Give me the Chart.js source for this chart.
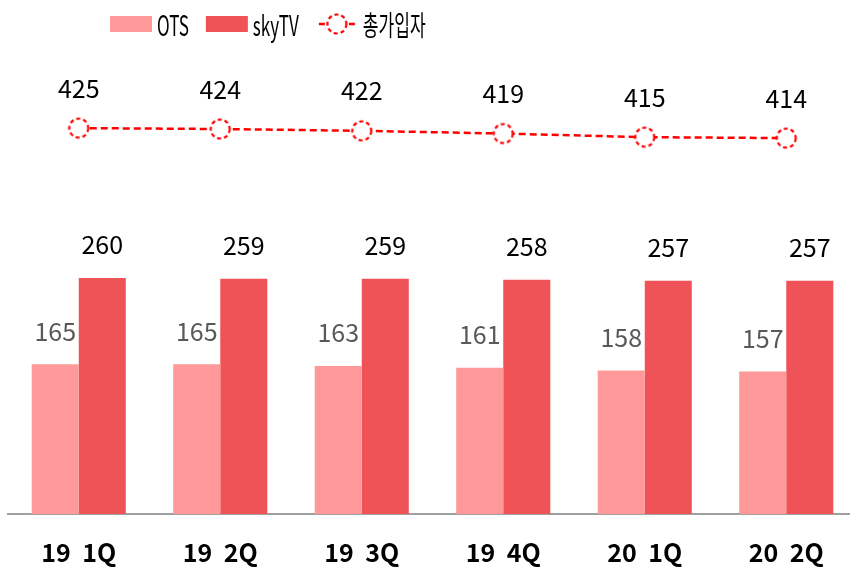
<!DOCTYPE html>
<html><head><meta charset="utf-8">
<script src="https://cdn.jsdelivr.net/npm/chart.js@4.4.1/dist/chart.umd.min.js"></script>
<style>
html,body{margin:0;padding:0;background:#fff;overflow:hidden}
canvas{display:block}
</style></head>
<body><canvas id="c" width="857" height="567"></canvas>
<script>
// data
const quarters   = ['19  1Q','19  2Q','19  3Q','19  4Q','20  1Q','20  2Q'];
const otsSubs    = [165,165,163,161,158,157];
const skyTvSubs  = [260,259,259,258,257,257];
const totalSubs  = [425,424,422,419,415,414];

const FONT = '"Noto Sans CJK KR", "Noto Sans", sans-serif';
const RED = '#ff0000';

// dashed hollow circle used as the point marker (and in the legend)
function dashedDot(){
  const cv = document.createElement('canvas');
  cv.width = 24; cv.height = 24;
  const g = cv.getContext('2d');
  g.beginPath(); g.arc(12,12,9.5,0,Math.PI*2);
  g.fillStyle = '#fff'; g.fill();
  g.setLineDash([4,3]); g.lineWidth = 2.2; g.strokeStyle = RED; g.stroke();
  return cv;
}
const dot = dashedDot();

// value labels above bars / points
const valueLabels = {
  id:'valueLabels',
  afterDatasetsDraw(chart){
    const ctx = chart.ctx;
    ctx.save();
    ctx.textAlign = 'center'; ctx.textBaseline = 'middle';
    ctx.font = '25px ' + FONT;
    chart.data.datasets.forEach((ds,i)=>{
      const meta = chart.getDatasetMeta(i);
      const off = ds.type==='line' ? 40 : 33;
      ctx.fillStyle = ds.labelColor;
      meta.data.forEach((el,j)=> ctx.fillText(String(ds.data[j]), el.x, el.y - off));
    });
    ctx.restore();
  }
};

// legend drawn by hand (narrow text, dashed line sample)
const legendDraw = {
  id:'legendDraw',
  afterDraw(chart){
    const ctx = chart.ctx, y = 24, sx = 0.61;
    ctx.save();
    ctx.font = '28px ' + FONT;
    ctx.textBaseline = 'middle';
    let x = 110;
    chart.data.datasets.forEach(ds=>{
      if (ds.type==='line'){
        ctx.save();
        ctx.strokeStyle = RED; ctx.lineWidth = 2.5; ctx.setLineDash([6,4]);
        ctx.beginPath(); ctx.moveTo(x+3,y); ctx.lineTo(x+42,y); ctx.stroke();
        ctx.restore();
        ctx.drawImage(dot, x+21-12, y-12);
      } else {
        ctx.fillStyle = ds.backgroundColor;
        ctx.fillRect(x, y-8, 42, 16);
      }
      x += 47;
      const w = ctx.measureText(ds.label).width * sx;
      ctx.save();
      ctx.translate(x, y); ctx.scale(sx,1);
      ctx.fillStyle = '#000';
      ctx.fillText(ds.label, 0, 1);
      ctx.restore();
      x += w + 17;
    });
    ctx.restore();
  }
};

new Chart(document.getElementById('c'), {
  type:'bar',
  data:{
    labels: quarters,
    datasets:[
      { label:'OTS', data: otsSubs, backgroundColor:'#ff9999', labelColor:'#595959', order:1 },
      { label:'skyTV', data: skyTvSubs, backgroundColor:'#ef5358', labelColor:'#000', order:1 },
      { type:'line', label:'총가입자', data: totalSubs, borderColor: RED, borderWidth:2.5,
        borderDash:[7,4], fill:false, pointStyle: dot, labelColor:'#000', order:0 }
    ]
  },
  options:{
    responsive:false, animation:false,
    layout:{ autoPadding:false, padding:{ top:60, left:8, right:0, bottom:0 } },
    datasets:{ bar:{ categoryPercentage:0.665, barPercentage:1.0 } },
    plugins:{ legend:{ display:false }, tooltip:{ enabled:false } },
    scales:{
      y:{ display:false, min:0, max:500 },
      x:{
        grid:{ display:false, drawTicks:false },
        border:{ display:true, color:'#a0a0a0', width:2 },
        ticks:{ color:'#000', padding:23, maxRotation:0, font:{ family:FONT, size:25, weight:'bold' } },
        afterFit(scale){ scale.height = 53; }
      }
    }
  },
  plugins:[valueLabels, legendDraw]
});
</script>
</body></html>
